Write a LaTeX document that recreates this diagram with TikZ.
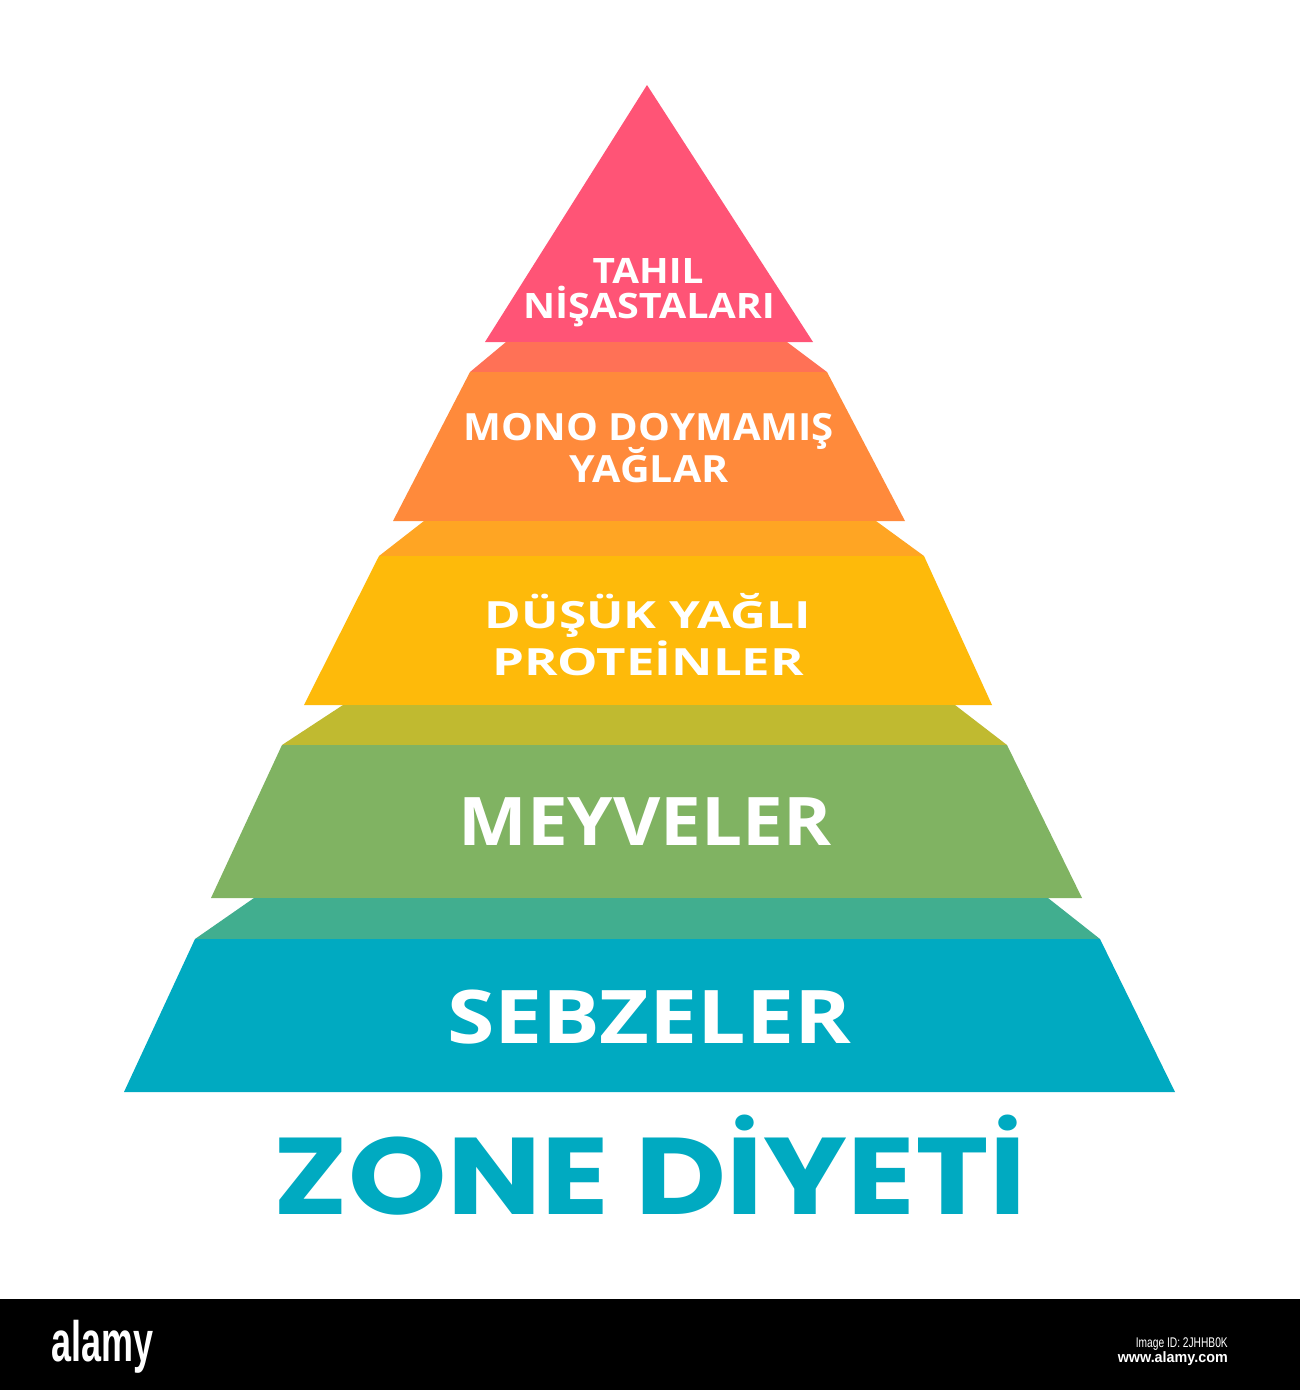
\documentclass[tikz,border=0pt]{standalone}
\usepackage{fontspec}
\usepackage{graphicx}
\setmainfont{Open Sans}
\newfontfamily\labfont{Open Sans}
\newfontfamily\titlefont{Poppins}
\newfontfamily\wmfont{Liberation Sans}
\definecolor{cpink}{HTML}{FF5476}
\definecolor{ccoral}{HTML}{FF7156}
\definecolor{corange}{HTML}{FF8A3B}
\definecolor{cybevel}{HTML}{FFA523}
\definecolor{cyellow}{HTML}{FEBA0A}
\definecolor{colive}{HTML}{C0BA30}
\definecolor{cgreen}{HTML}{80B362}
\definecolor{cteal}{HTML}{41AE8F}
\definecolor{cblue}{HTML}{00AAC1}
\newcommand{\fitw}[2]{\resizebox{#1pt}{\height}{#2}}
\tikzset{
  lab/.style={text=white, inner sep=0pt, anchor=base, font=\labfont\bfseries},
  ttl/.style={text=cblue, inner sep=0pt, anchor=base, font=\titlefont\bfseries\fontsize{109}{109}\selectfont},
  wm/.style={text=white, inner sep=0pt}
}
\begin{document}
\begin{tikzpicture}[x=1pt,y=-1pt]
\useasboundingbox (0,0) rectangle (1300,1390);
\fill[white] (0,0) rectangle (1300,1390);
% tiers
\fill[cpink] (647,85) -- (813,342) -- (485,342) -- cycle;
\fill[ccoral] (506,342) -- (787,342) -- (827,372) -- (470,372) -- cycle;
\fill[corange] (470,372) -- (827,372) -- (905,521) -- (393,521) -- cycle;
\fill[cybevel] (424,521) -- (876,521) -- (924,556) -- (379,556) -- cycle;
\fill[cyellow] (379,556) -- (924,556) -- (992,705) -- (304,705) -- cycle;
\fill[colive] (343,705) -- (955,705) -- (1007,745) -- (282,745) -- cycle;
\fill[cgreen] (282,745) -- (1007,745) -- (1082,898) -- (211,898) -- cycle;
\fill[cteal] (254,898) -- (1048,898) -- (1100,939) -- (195,939) -- cycle;
\fill[cblue] (195,939) -- (1100,939) -- (1175,1092) -- (124,1092) -- cycle;
% labels
\node[lab, font=\labfont\bfseries\fontsize{35}{35}\selectfont] (t1a) at (648,283) {\fitw{111}{TAHIL}};
\node[lab, font=\labfont\bfseries\fontsize{35}{35}\selectfont] (t1b) at (649,318) {\fitw{252}{NİŞASTALARI}};
\node[lab, font=\labfont\bfseries\fontsize{37.5}{37.5}\selectfont] (t2a) at (649,440) {\fitw{370}{MONO DOYMAMIŞ}};
\node[lab, font=\labfont\bfseries\fontsize{37.5}{37.5}\selectfont] (t2b) at (649,482) {\fitw{159}{YAĞLAR}};
\node[lab, font=\labfont\bfseries\fontsize{37.5}{37.5}\selectfont] (t3a) at (648,628) {\fitw{326}{DÜŞÜK YAĞLI}};
\node[lab, font=\labfont\bfseries\fontsize{37.5}{37.5}\selectfont] (t3b) at (648,675) {\fitw{312}{PROTEİNLER}};
\node[lab, font=\labfont\bfseries\fontsize{67}{67}\selectfont] (t4) at (645,845) {\fitw{373}{MEYVELER}};
\node[lab, font=\labfont\bfseries\fontsize{74}{74}\selectfont] (t5) at (649,1043) {\fitw{404}{SEBZELER}};
% title
\node[ttl] (title) at (650,1214) {\fitw{752}{ZONE DİYETİ}};
% bottom bar
\fill[black] (0,1299) rectangle (1300,1390);
\node[wm, anchor=base west, font=\wmfont\bfseries\fontsize{57}{57}\selectfont] (logo) at (51,1361) {\fitw{102}{alamy}};
\node[wm, anchor=base east, font=\wmfont\fontsize{14}{14}\selectfont] (imgid) at (1228,1347) {\fitw{92}{Image ID: 2JHHB0K}};
\node[wm, anchor=base east, font=\wmfont\bfseries\fontsize{15}{15}\selectfont] (url) at (1228,1362) {\fitw{110}{www.alamy.com}};
\end{tikzpicture}
\end{document}
